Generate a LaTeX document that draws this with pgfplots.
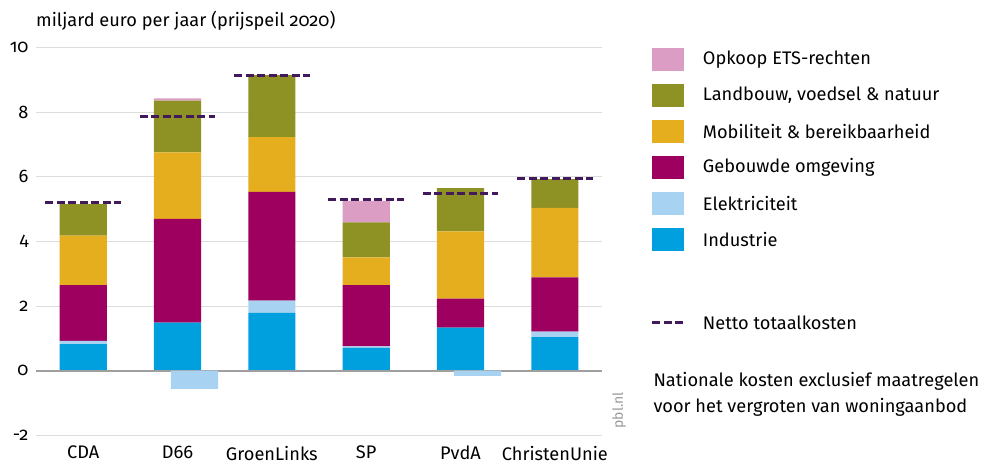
\documentclass[border=0pt]{standalone}
\usepackage{fontspec}
\setmainfont{Fira Sans}[Numbers=OldStyle]
\usepackage{pgfplots}
\pgfplotsset{compat=1.18}
\usepackage{pgfplotstable}

\definecolor{opk}{HTML}{DC9DC4}
\definecolor{land}{HTML}{8E9124}
\definecolor{mob}{HTML}{E5AE1F}
\definecolor{geb}{HTML}{9D005E}
\definecolor{elek}{HTML}{A8D2F2}
\definecolor{ind}{HTML}{009FDE}
\definecolor{netto}{HTML}{42195B}
\definecolor{gridc}{HTML}{DDDDDD}

\newcommand\lbl{\fontsize{18.2bp}{22bp}\selectfont}

% positive parts, stacked bottom to top
\pgfplotstableread{
x Ind Elek Geb Mob Land Opk
0 0.82 0.10 1.73 1.53 0.98 0.00
1 1.49 0.00 3.21 2.06 1.60 0.07
2 1.79 0.38 3.37 1.69 1.92 0.00
3 0.71 0.04 1.90 0.86 1.08 0.67
4 1.33 0.00 0.90 2.08 1.34 0.00
5 1.04 0.17 1.68 2.15 0.89 0.00
}\costs

\begin{document}
\begin{tikzpicture}
  \path[use as bounding box] (-36bp,-27.7bp) rectangle (949bp,435.3bp);
  \pgfplotsset{
    base/.style={
      scale only axis, width=566bp, height=387.6bp,
      at={(0,0)}, anchor=south west,
      xmin=-0.5, xmax=5.5, ymin=-2, ymax=10,
    }
  }
  \begin{axis}[
      base,
      ybar stacked, bar width=0.5,
      axis line style={draw=none},
      tick style={draw=none},
      ytick={-2,0,...,10},
      xtick={0,...,5},
      xticklabels={CDA,D66,GroenLinks,SP,PvdA,ChristenUnie},
      ymajorgrids,
      grid style={draw=gridc, line width=1bp},
      tick label style={font=\lbl},
      /pgf/number format/assume math mode=true,
      x tick label style={anchor=north, yshift=-7bp},
      y tick label style={anchor=east, xshift=-4bp},
    ]
    \addplot[fill=ind, draw=none] table[x=x, y=Ind] {\costs};
    \addplot[fill=elek, draw=none] table[x=x, y=Elek] {\costs};
    \addplot[fill=geb, draw=none] table[x=x, y=Geb] {\costs};
    \addplot[fill=mob, draw=none] table[x=x, y=Mob] {\costs};
    \addplot[fill=land, draw=none] table[x=x, y=Land] {\costs};
    \addplot[fill=opk, draw=none] table[x=x, y=Opk] {\costs};
  \end{axis}
  \begin{axis}[base, hide axis, clip=false, unbounded coords=jump]
    \draw[gray!75, line width=2bp] (axis cs:-0.5,0) -- (axis cs:5.5,0);
    % negative electricity parts
    \addplot[ybar, bar width=0.5, bar shift=0.18, fill=elek, draw=none]
      coordinates {(1,-0.56) (4,-0.16)};
    % netto totaalkosten
    \addplot[netto, line width=3bp, dash pattern=on 8bp off 3.5bp, mark=none]
      coordinates {
        (-0.4,5.21) (0.4,5.21) (0.5,nan)
        (0.6,7.88) (1.4,7.88) (1.5,nan)
        (1.6,9.15) (2.4,9.15) (2.5,nan)
        (2.6,5.29) (3.4,5.29) (3.5,nan)
        (3.6,5.48) (4.4,5.48) (4.5,nan)
        (4.6,5.96) (5.4,5.96)
      };
  \end{axis}
  % title and source
  \node[anchor=west, font=\lbl, inner sep=0] at (0bp,415bp)
    {miljard euro per jaar (prijspeil 2020)};
  \node[rotate=90, font=\fontsize{14bp}{16bp}\selectfont, text=gray!80, inner sep=0]
    at (583bp,25bp) {pbl.nl};
  % legend
  \foreach \c/\t [count=\i from 0] in {
      opk/Opkoop ETS-rechten,
      land/{Landbouw, voedsel \& natuur},
      mob/Mobiliteit \& bereikbaarheid,
      geb/Gebouwde omgeving,
      elek/Elektriciteit,
      ind/Industrie} {
    \fill[\c] (616bp,376bp-\i*36bp-11.5bp) rectangle (648bp,376bp-\i*36bp+11.5bp);
    \node[anchor=west, font=\lbl, inner sep=0] at (666.7bp,376bp-\i*36bp) {\t};
  }
  \draw[netto, line width=3bp, dash pattern=on 8bp off 3.5bp] (616bp,112.6bp) -- (648bp,112.6bp);
  \node[anchor=west, font=\lbl, inner sep=0] at (666.7bp,112.6bp) {Netto totaalkosten};
  \node[anchor=west, font=\lbl, inner sep=0] at (617.3bp,53.6bp) {Nationale kosten exclusief maatregelen};
  \node[anchor=west, font=\lbl, inner sep=0] at (617.3bp,28bp) {voor het vergroten van woningaanbod};
\end{tikzpicture}
\end{document}
